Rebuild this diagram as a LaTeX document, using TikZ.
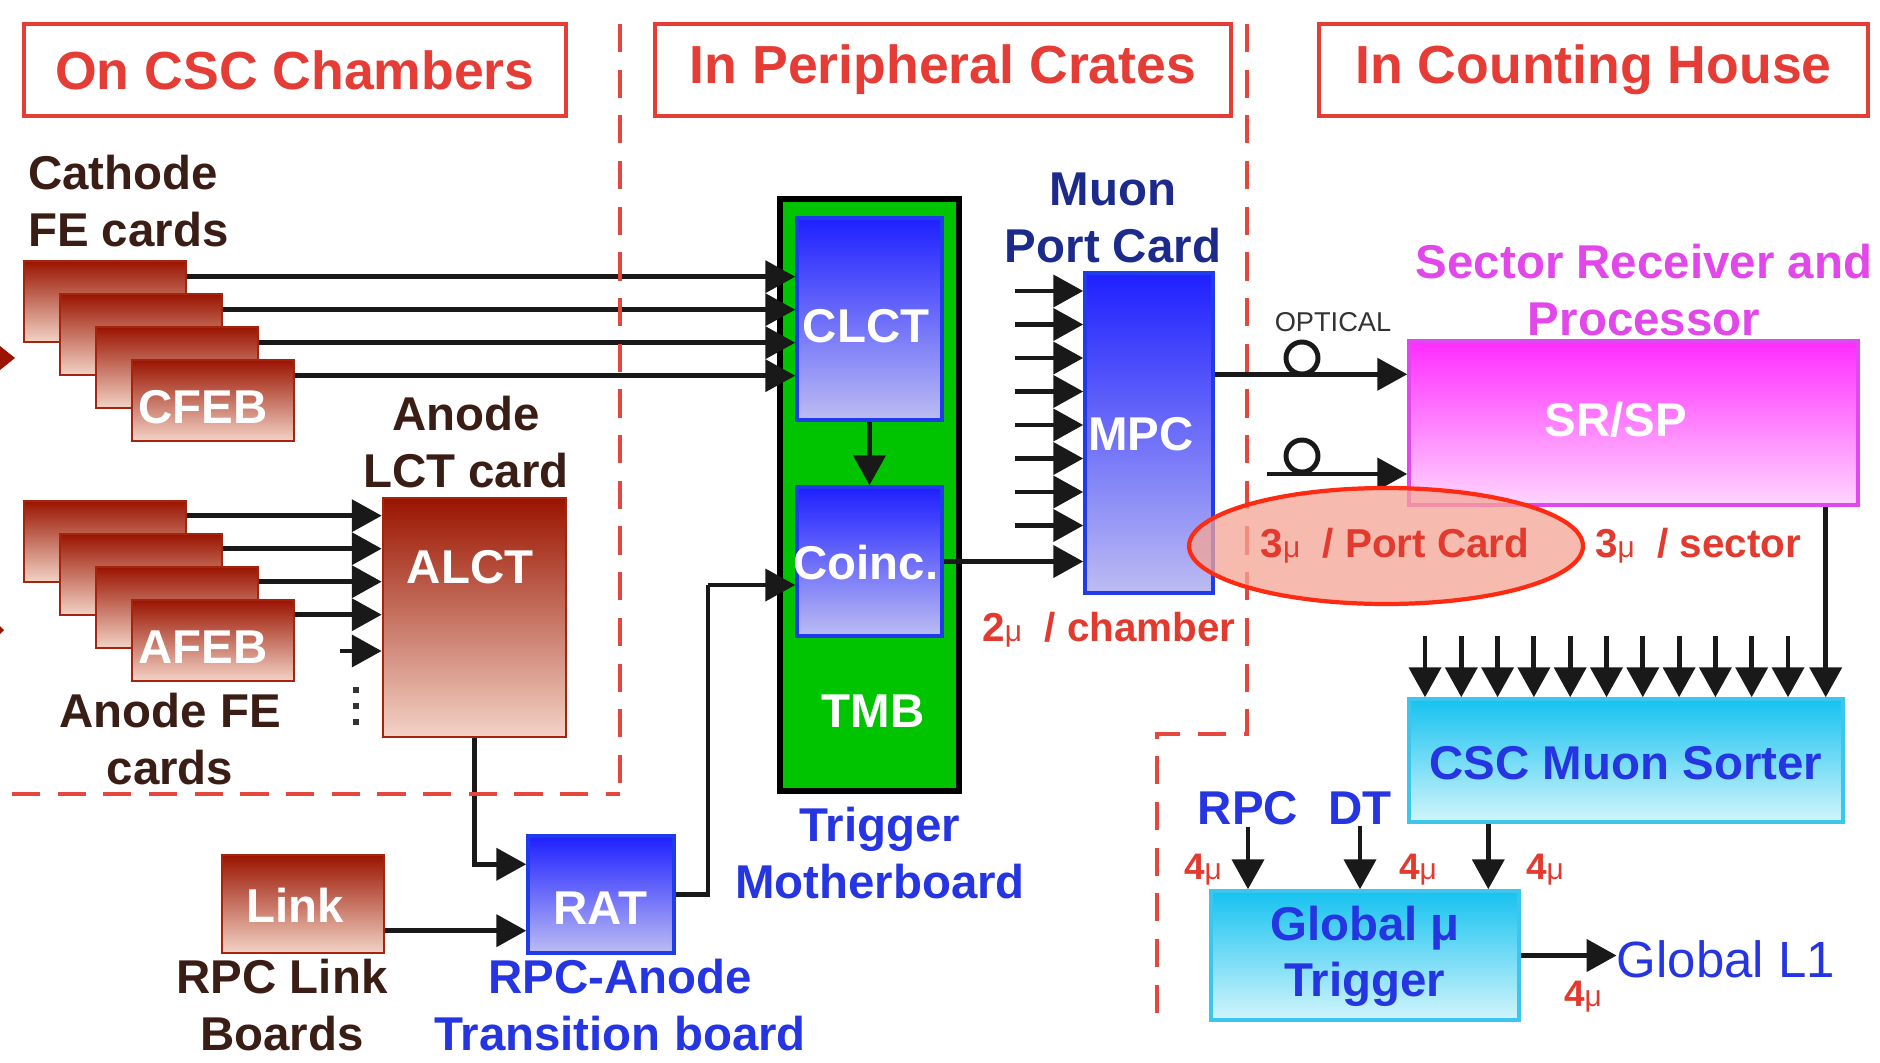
\documentclass[tikz,border=0pt]{standalone}
\usepackage{fontspec}
\setmainfont{Liberation Sans}
\usetikzlibrary{arrows.meta,calc}
\definecolor{hdrred}{HTML}{E53C36}
\definecolor{dashred}{HTML}{E5463E}
\definecolor{txtbrown}{HTML}{3A1E16}
\definecolor{txtblue}{HTML}{2535E2}
\definecolor{txtnavy}{HTML}{1C2A8C}
\definecolor{txtmag}{HTML}{E247EA}
\definecolor{lblred}{HTML}{E23A2E}
\definecolor{cardtop}{HTML}{9A1400}
\definecolor{cardbot}{HTML}{F3D3C6}
\definecolor{cardedge}{HTML}{A3250F}
\definecolor{bluetop}{HTML}{1E20FF}
\definecolor{bluebot}{HTML}{BCBCF3}
\definecolor{blueedge}{HTML}{1F3BEA}
\definecolor{tmbgreen}{HTML}{00C400}
\definecolor{magtop}{HTML}{FF2CFF}
\definecolor{magbot}{HTML}{FFD6FF}
\definecolor{magedge}{HTML}{E246EE}
\definecolor{cyantop}{HTML}{16C2F0}
\definecolor{cyanbot}{HTML}{D2F5FB}
\definecolor{cyanedge}{HTML}{3CC6EE}
\definecolor{ellfill}{HTML}{F4A594}
\definecolor{ellline}{HTML}{FF2A12}
\newcommand\smallmu{{\fontsize{17}{17}\selectfont\mdseries μ}}
\begin{document}
\begin{tikzpicture}[x=0.02cm,y=-0.02cm,
  hdr/.style={draw=hdrred,line width=2.4pt,inner sep=0pt,text=hdrred,font=\fontsize{30.5}{34}\selectfont\bfseries,minimum height=1.84cm},
  redash/.style={draw=dashred,line width=2.4pt,dash pattern=on 16pt off 10pt},
  card/.style={draw=cardedge,line width=1.5pt,top color=cardtop,bottom color=cardbot,minimum width=3.24cm,minimum height=1.62cm,inner sep=0pt},
  redbox/.style={draw=cardedge,line width=1.5pt,top color=cardtop,bottom color=cardbot,inner sep=0pt},
  bluebox/.style={draw=blueedge,line width=2pt,top color=bluetop,bottom color=bluebot,inner sep=0pt},
  magbox/.style={draw=magedge,line width=2pt,top color=magtop,bottom color=magbot,inner sep=0pt},
  cyanbox/.style={draw=cyanedge,line width=2pt,top color=cyantop,bottom color=cyanbot,inner sep=0pt},
  tmbbox/.style={draw=black,line width=3.2pt,fill=tmbgreen,inner sep=0pt},
  wtxt/.style={text=white,font=\fontsize{27}{32}\selectfont\bfseries,inner sep=1pt},
  btxt/.style={text=txtbrown,font=\fontsize{27}{32}\selectfont\bfseries,inner sep=1pt,align=center},
  bltxt/.style={text=txtblue,font=\fontsize{27}{32}\selectfont\bfseries,inner sep=1pt,align=center},
  rtxt/.style={text=lblred,font=\fontsize{23}{26}\selectfont\bfseries,inner sep=1pt},
  four/.style={text=lblred,font=\fontsize{21}{22}\selectfont\bfseries,inner sep=1pt},
  wire/.style={draw=black!90,line width=2.8pt},
  arr/.style={wire,-{Triangle[length=17pt,width=18pt]}},
]
\fill[white] (0,0) rectangle (1880,1062);
\useasboundingbox (0,0) rectangle (1880,1062);

% headers
\node[hdr,minimum width=10.84cm] (h1) at (295,70) {On CSC Chambers};
\node[hdr,minimum width=11.52cm] (h2) at (943,70) {In Peripheral Crates};
\node[hdr,minimum width=10.98cm] (h3) at (1593.5,70) {In Counting House};

% edge triangles
\fill[cardtop] (0,346) -- (15,358) -- (0,370) -- cycle;
\fill[cardtop] (0,626) -- (4,630) -- (0,634) -- cycle;

% left texts
\node[btxt,align=left,anchor=west] (cath) at (26,201) {Cathode\\FE cards};
\node[btxt] (anodelct) at (466,442) {Anode\\LCT card};
\node[btxt] (anodefe) at (170,739) {Anode FE\\cards};
\node[btxt] (rpclink) at (282,1005) {RPC Link\\Boards};
\node[bltxt] (rpcanode) at (620,1005) {RPC-Anode\\Transition board};
\node[bltxt] (tmbtxt) at (880,853) {Trigger\\Motherboard};
\node[bltxt,text=txtnavy] (mpctxt) at (1113,218) {Muon\\Port Card};
\node[bltxt,text=txtmag] (srtxt) at (1644,290) {Sector Receiver and\\Processor};

% TMB
\node[tmbbox,minimum width=3.58cm,minimum height=11.84cm] (tmb) at (869.5,495) {};
\node[bluebox,minimum width=2.9cm,minimum height=4.04cm] (clct) at (869.5,319) {};
\node[bluebox,minimum width=2.9cm,minimum height=2.98cm] (coinc) at (869.5,561.5) {};
\node[wtxt] (clctT) at (866,326) {CLCT};
\node[wtxt] (coincT) at (866,563) {Coinc.};
\node[wtxt] (tmbT) at (873,711) {TMB};
\draw[arr] (clct.south) -- (coinc.north);

% CFEB cards
\foreach \k in {0,...,3}
  \node[card] (cf\k) at ({105+36*\k},{301.5+33*\k}) {};
\node[wtxt] (cfebT) at (203,407) {CFEB};
\foreach \k in {0,...,3}
  \draw[arr] ($(cf\k.north east)+(0,17)$) coordinate (s) -- (s -| clct.west);

% ALCT and AFEB cards
\node[redbox,minimum width=3.66cm,minimum height=4.78cm] (alct) at (474.5,617.5) {};
\node[wtxt] (alctT) at (470,567) {ALCT};
\foreach \k in {0,...,3}
  \node[card] (af\k) at ({105+36*\k},{541.5+33*\k}) {};
\node[wtxt] (afebT) at (203,647) {AFEB};
\foreach \k in {0,...,3}
  \draw[arr] ($(af\k.north east)+(0,16)$) coordinate (s) -- (s -| alct.west);
\coordinate (a5) at (340,651);
\draw[arr] (a5) -- (a5 -| alct.west);
\foreach \yy in {687,703,719}
  \fill[black!80] (353,\yy) rectangle (359,\yy+6);

% RAT and Link
\node[bluebox,minimum width=2.92cm,minimum height=2.34cm] (rat) at (601,894.5) {};
\node[wtxt] (ratT) at (600,908) {RAT};
\node[redbox,minimum width=3.24cm,minimum height=1.96cm] (link) at (303,904) {};
\node[wtxt] (linkT) at (295,905) {Link};
\draw[arr] (alct.south) |- ($(rat.north west)+(0,30)$);
\draw[arr] ($(link.north east)+(0,77)$) coordinate (s) -- (s -| rat.west);
\draw[wire] (rat.east) -| (708,585) coordinate (rc);
\draw[arr] (rc) -- (rc -| coinc.west);

% MPC
\node[bluebox,minimum width=2.56cm,minimum height=6.4cm] (mpc) at (1149,433) {};
\node[wtxt] (mpcT) at (1141,434) {MPC};
\draw[arr] (coinc.east) -- (coinc.east -| mpc.west);
\foreach \k in {0,...,7}{
  \coordinate (m\k) at (1015,{291+33.5*\k});
  \draw[arr] (m\k) -- (m\k -| mpc.west);
}

% SR/SP
\node[magbox,minimum width=8.98cm,minimum height=3.28cm] (srsp) at (1633.5,423) {};
\node[wtxt] (srspT) at (1616,420) {SR/SP};
\node[text=black!80,font=\fontsize{15.5}{16}\selectfont,inner sep=1pt] (opt) at (1333,322) {OPTICAL};
\draw[arr] ($(mpc.north east)+(0,103)$) coordinate (o1) -- (o1 -| srsp.west);
\draw[wire] (1302,358) circle [radius=0.32cm];
\coordinate (o2) at (1267,474);
\draw[arr] (o2) -- (o2 -| srsp.west);
\draw[wire] (1302,456) circle [radius=0.32cm];

% Sorter
\node[cyanbox,minimum width=8.68cm,minimum height=2.46cm] (sorter) at (1626,760.5) {};
\node[bltxt] (sorterT) at (1626,763) {CSC Muon Sorter};
\foreach \k in {0,...,10}{
  \coordinate (q\k) at ({1425+36.3*\k},636);
  \draw[arr] (q\k) -- (q\k |- sorter.north);
}
\draw[arr] ($(srsp.south east)+(-34,0)$) coordinate (ls) -- (ls |- sorter.north);

% Global muon trigger
\node[cyanbox,minimum width=6.16cm,minimum height=2.58cm] (gmt) at (1365,955.5) {};
\node[bltxt] (gmtT) at (1365,956) {Global μ\\Trigger};
\node[bltxt] (rpcT) at (1248,808) {RPC};
\node[bltxt] (dtT) at (1360,808) {DT};
\draw[arr] (rpcT.south) -- (rpcT.south |- gmt.north);
\draw[arr] (dtT.south) -- (dtT.south |- gmt.north);
\draw[arr] ($(sorter.south west)+(81,0)$) coordinate (sg) -- (sg |- gmt.north);
\node[text=txtblue,font=\fontsize{29}{32}\selectfont,inner sep=0pt] (gl1) at (1726,959) {Global L1};
\draw[arr] (gmt.east) -- (gmt.east -| gl1.west);

% dashed boundaries
\draw[redash] (620,24) -- (620,794);
\draw[redash] (12,794) -- (620,794);
\draw[redash] (1247,24) -- (1247,734) -- (1157,734) -- (1157,1028);

% highlight ellipse
\draw[draw=ellline,line width=2.4pt,fill=ellfill,fill opacity=0.75] (1386,546) ellipse [x radius=3.94cm,y radius=1.16cm];

% red labels
\node[rtxt] (l2mu) at (1109,630) {2\smallmu\ \ / chamber};
\node[rtxt] (l3pc) at (1395,546) {3\smallmu\ \ / Port Card};
\node[rtxt] (l3sec) at (1698,546) {3\smallmu\ \ / sector};
\node[four] (f1) at (1203,870) {4\smallmu};
\node[four] (f2) at (1418,870) {4\smallmu};
\node[four] (f3) at (1545,870) {4\smallmu};
\node[four] (f4) at (1583,997) {4\smallmu};
\end{tikzpicture}
\end{document}
